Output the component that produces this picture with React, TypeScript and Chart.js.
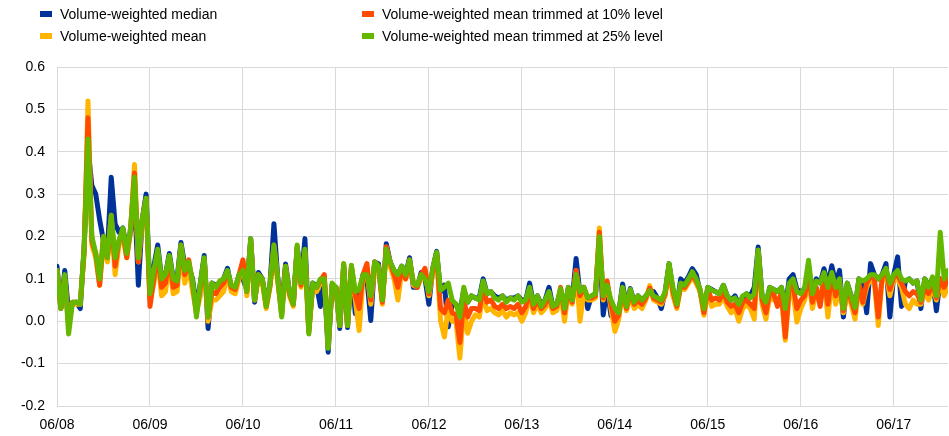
import React, { useEffect, useRef } from 'react';
import { Chart, registerables } from 'chart.js';

Chart.register(...registerables);

// x-axis: half-month steps from June 2008 (index 0) to about January 2018 (index 230)
const yearLabels = ['06/08', '06/09', '06/10', '06/11', '06/12', '06/13', '06/14', '06/15', '06/16', '06/17'];
const stepsPerYear = 24;

const seriesNames = [
  'Volume-weighted median',
  'Volume-weighted mean',
  'Volume-weighted mean trimmed at 10% level',
  'Volume-weighted mean trimmed at 25% level',
];

const median = [
  .13, .03, .12, .02, .04, .045, .03, .175, .41, .32, .3, .24, .19, .16, .34, .23, .21, .22, .17, .21, .3, .085, .24, .30,
  .07, .13, .18, .1, .11, .16, .1, .1, .186, .13, .13, .1, .03, .09, .155, -.017, .09, .085, .09, .1, .125, .08, .075, .11,
  .1, .075, .195, .045, .115, .1, .04, .09, .23, .1, .035, .135, .07, .04, .175, .09, .195, -.02, .09, .085, .035, .1, -.073, .085,
  .08, -.017, .13, -.015, .125, .018, .06, .11, .1, .002, .14, .135, .045, .183, .14, .12, .11, .13, .11, .15, .08, .08, .115, .1,
  .04, .125, .165, .07, .085, -.013, .04, .04, .02, .075, .045, .06, .055, .055, .1, .065, .07, .06, .055, .06, .05, .055, .055, .06,
  .05, .05, .09, .04, .06, .04, .05, .08, .035, .04, .07, .03, .08, .05, .148, .065, .08, .03, .06, .065, .19, .015, .08, .013,
  .03, .02, .088, .035, .077, .045, .06, .05, .06, .07, .07, .055, .03, .07, .136, .07, .035, .1, .09, .105, .124, .11, .07, .03,
  .08, .075, .07, .065, .085, .06, .05, .06, .04, .055, .065, .06, .08, .175, .06, .04, .08, .075, .07, .08, .03, .1, .11, .075,
  .07, .075, .12, .07, .1, .09, .124, .085, .131, .09, .12, .01, .09, .06, .03, .1, .09, .02, .136, .11, .1, .11, .136, .01,
  .11, .152, .035, .095, .1, .09, .095, .03, .1, .085, .1, .025, .1, .07, .11,
];

const mean = [
  .12, .03, .1, .0, .045, .04, .04, .16, .52, .18, .15, .085, .19, .14, .24, .11, .18, .2, .15, .21, .37, .14, .23, .28,
  .05, .09, .15, .06, .07, .14, .065, .07, .17, .09, .13, .07, .02, .06, .14, .0, .05, .05, .06, .07, .11, .07, .065, .1,
  .14, .06, .18, .05, .1, .09, .03, .08, .17, .09, .02, .12, .06, .035, .17, .08, .16, -.025, .08, .07, .09, .105, -.06, .08,
  .075, -.01, .13, -.01, .12, .05, -.022, .1, .12, .04, .13, .12, .04, .175, .13, .1, .05, .12, .1, .14, .085, .08, .1, .12,
  .06, .115, .155, .002, -.037, .03, .0, .0, -.087, .03, -.028, .0, .015, .01, .06, .025, .03, .02, .015, .025, .01, .02, .015, .02,
  .0, .02, .06, .02, .04, .02, .03, .05, .02, .025, .07, .0, .07, .04, .12, .0, .07, .05, .05, .055, .22, .05, .09, .03,
  -.024, .005, .07, .025, .06, .03, .04, .03, .05, .084, .05, .045, .04, .06, .125, .06, .03, .08, .075, .09, .105, .09, .07, .014,
  .07, .035, .04, .04, .06, .035, .02, .03, .0, .03, .04, .03, .005, .16, .04, .005, .06, .05, .05, .06, -.045, .06, .07, -.002,
  .03, .05, .1, .03, .07, .05, .1, .01, .1, .04, .08, .02, .07, .04, .005, .08, .04, .08, .1, .09, -.01, .1, .11, .06,
  .1, .1, .08, .04, .03, .05, .04, .04, .07, .05, .08, .05, .09, .06, .08,
];

const trimmed10 = [
  .12, .03, .1, -.01, .045, .045, .04, .165, .48, .19, .16, .085, .2, .15, .25, .13, .19, .21, .15, .22, .35, .14, .24, .29,
  .035, .1, .16, .08, .09, .15, .08, .085, .18, .11, .145, .09, .02, .08, .145, .01, .07, .065, .08, .09, .115, .08, .075, .11,
  .145, .07, .19, .05, .11, .1, .035, .085, .18, .1, .015, .13, .065, .04, .175, .085, .165, -.025, .085, .08, .095, .11, -.06, .085,
  .08, -.01, .135, -.01, .13, .06, .03, .11, .136, .05, .14, .13, .045, .175, .14, .11, .08, .125, .1, .145, .09, .08, .11, .125,
  .065, .12, .16, .03, .02, .05, .02, .015, -.05, .05, .01, .03, .03, .025, .08, .045, .05, .035, .03, .04, .03, .035, .03, .04,
  .02, .035, .07, .03, .05, .03, .04, .06, .03, .035, .08, .02, .075, .045, .12, .06, .08, .055, .055, .06, .21, .055, .095, .04,
  .0, .015, .075, .03, .07, .04, .05, .04, .055, .078, .055, .05, .045, .065, .13, .07, .035, .085, .08, .095, .11, .095, .075, .02,
  .075, .05, .055, .05, .07, .045, .035, .04, .02, .045, .05, .04, .03, .165, .05, .02, .07, .065, .035, .07, -.037, .08, .085, .03,
  .05, .06, .11, .045, .08, .035, .105, .04, .11, .06, .09, .025, .08, .05, .02, .09, .045, .09, .105, .1, .01, .105, .12, .075,
  .105, .11, .09, .07, .06, .07, .065, .045, .08, .065, .09, .055, .1, .08, .1,
];

const trimmed25 = [
  .12, .03, .11, -.03, .045, .045, .04, .17, .43, .2, .16, .1, .2, .15, .25, .15, .19, .22, .16, .22, .34, .15, .24, .29,
  .065, .12, .17, .1, .11, .155, .1, .095, .18, .12, .14, .095, .01, .09, .15, .01, .09, .08, .095, .1, .12, .085, .08, .11,
  .12, .07, .195, .05, .11, .1, .035, .09, .18, .1, .01, .13, .07, .04, .18, .09, .17, -.03, .09, .08, .1, .1, -.064, .09,
  .08, -.01, .136, -.01, .132, .07, .075, .11, .11, .06, .14, .13, .05, .17, .14, .12, .11, .13, .11, .145, .09, .085, .11, .1,
  .07, .125, .163, .073, .08, .09, .05, .04, .01, .08, .045, .06, .055, .05, .095, .065, .07, .055, .05, .06, .045, .055, .05, .06,
  .045, .05, .08, .04, .06, .035, .05, .07, .035, .04, .077, .03, .08, .05, .11, .07, .08, .055, .06, .065, .2, .06, .085, .05,
  .03, .02, .08, .035, .075, .045, .06, .05, .06, .072, .06, .055, .05, .07, .136, .08, .04, .09, .085, .1, .117, .1, .075, .03,
  .08, .073, .07, .065, .085, .06, .05, .055, .04, .06, .065, .055, .065, .168, .06, .045, .08, .075, .07, .08, .03, .09, .1, .07,
  .065, .08, .144, .065, .095, .09, .115, .08, .115, .08, .1, .03, .09, .06, .032, .1, .095, .1, .11, .11, .1, .11, .125, .09,
  .11, .12, .1, .095, .1, .09, .095, .05, .1, .08, .105, .06, .21, .1, .12,
];

const COLORS = ['#003299', '#ffb400', '#ff4b00', '#65b800'];
const FONT = "'Liberation Sans', Arial, Helvetica, sans-serif";

const legendItems = [
  { name: seriesNames[0], color: COLORS[0], left: 40, top: 6 },
  { name: seriesNames[1], color: COLORS[1], left: 40, top: 28 },
  { name: seriesNames[2], color: COLORS[2], left: 362, top: 6 },
  { name: seriesNames[3], color: COLORS[3], left: 362, top: 28 },
];

export default function App() {
  const ref = useRef<HTMLCanvasElement>(null);

  useEffect(() => {
    const toPts = (arr: number[]) => arr.map((y, i) => ({ x: i, y }));
    const all = [median, mean, trimmed10, trimmed25];
    const drawOrder = [3, 2, 1, 0];
    const chart = new Chart(ref.current!, {
      type: 'line',
      data: {
        datasets: all.map((arr, k) => ({
          label: seriesNames[k],
          data: toPts(arr),
          borderColor: COLORS[k],
          backgroundColor: COLORS[k],
          order: drawOrder[k],
        })),
      },
      options: {
        animation: false,
        responsive: false,
        devicePixelRatio: 1,
        layout: { padding: { top: 67, right: 1, left: 0, bottom: 0 } },
        plugins: { legend: { display: false }, tooltip: { enabled: false } },
        elements: {
          point: { radius: 0 },
          line: { borderWidth: 5, tension: 0, borderCapStyle: 'round', borderJoinStyle: 'round' },
        },
        scales: {
          x: {
            type: 'linear',
            min: 0,
            max: 230,
            afterBuildTicks: (s: any) => {
              s.ticks = yearLabels.map((_, k) => ({ value: k * stepsPerYear }));
            },
            afterFit: (s: any) => {
              s.height = 30;
            },
            ticks: {
              callback: (v: any) => yearLabels[Math.round(Number(v) / stepsPerYear)] ?? '',
              font: { family: FONT, size: 14 },
              color: '#000',
              padding: 11,
              maxRotation: 0,
              autoSkip: false,
            },
            grid: { color: '#d9d9d9', drawTicks: false },
            border: { display: false },
          },
          y: {
            min: -0.2,
            max: 0.6,
            afterFit: (s: any) => {
              s.width = 57;
            },
            ticks: {
              stepSize: 0.1,
              callback: (v: any) => (Math.round(Number(v) * 10) / 10).toFixed(1),
              font: { family: FONT, size: 14 },
              color: '#000',
              padding: 12,
            },
            grid: { color: '#d9d9d9', drawTicks: false },
            border: { color: '#d9d9d9' },
          },
        },
      },
    } as any);
    return () => chart.destroy();
  }, []);

  return (
    <div style={{ position: 'absolute', left: 0, top: 0, width: 949, height: 436, background: '#fff' }}>
      <canvas ref={ref} width={949} height={436} style={{ display: 'block', width: 949, height: 436 }} />
      {legendItems.map((it) => (
        <div
          key={it.name}
          style={{
            position: 'absolute',
            left: it.left,
            top: it.top,
            height: 16,
            display: 'flex',
            alignItems: 'center',
            fontFamily: FONT,
            fontSize: 14,
            color: '#000',
            whiteSpace: 'nowrap',
          }}
        >
          <span style={{ display: 'inline-block', width: 12, height: 6, background: it.color, marginRight: 8 }} />
          <span>{it.name}</span>
        </div>
      ))}
    </div>
  );
}
